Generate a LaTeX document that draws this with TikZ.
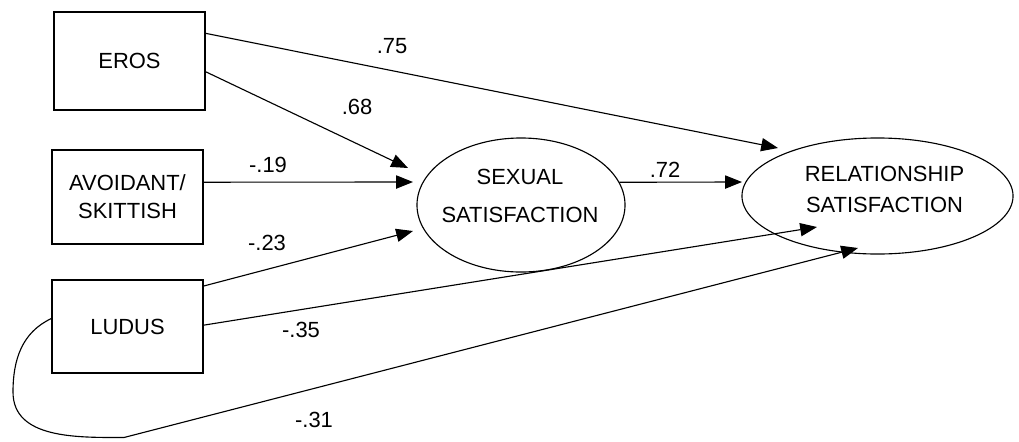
\documentclass[tikz,border=0pt]{standalone}
\usepackage{fontspec}
\setmainfont{Liberation Sans}
\usetikzlibrary{arrows.meta,shapes.geometric}

\begin{document}
\begin{tikzpicture}[x=0.025cm,y=-0.025cm,>={Triangle[length=4.2mm,width=3.3mm]},line width=0.8pt,
  every node/.style={font=\fontsize{15.6}{19}\selectfont},
  varbox/.style={draw,rectangle,minimum width=3.775cm,minimum height=#1,inner sep=0pt,align=center},
  latent/.style={draw,ellipse,inner sep=0pt},
  coef/.style={inner sep=1pt}]
  \useasboundingbox (0,0) rectangle (1019,441);

  % ================= observed variables =================
  \node[varbox=2.45cm] (eros) at (129.5,61) {EROS};
  \node[varbox=2.35cm,font=\fontsize{15.6}{20}\selectfont] (avoid) at (127.5,197) {AVOIDANT/\\SKITTISH};
  \node[varbox=2.325cm] (ludus) at (127.5,326.5) {LUDUS};

  % ================= latent variables =================
  \node[latent,minimum width=5.2cm,minimum height=3.35cm] (sex) at (521,205) {};
  \node[align=center,font=\fontsize{15.6}{27}\selectfont] (sextxt) at (520,196) {SEXUAL\\SATISFACTION};
  \node[latent,minimum width=6.775cm,minimum height=2.9cm] (rel) at (877.5,196) {};
  \node[align=center,font=\fontsize{15.6}{22}\selectfont] (reltxt) at (884.5,189.5) {RELATIONSHIP\\SATISFACTION};

  % arrow ends near the ellipses
  \coordinate (sexA) at ([shift={(-113,-37)}]sex.center);
  \coordinate (sexB) at ([shift={(-108,-23)}]sex.center);
  \coordinate (sexC) at ([shift={(-108,26)}]sex.center);
  \coordinate (relA) at ([shift={(-99.5,-48)}]rel.center);
  \coordinate (relB) at ([shift={(-135.5,-14)}]rel.center);
  \coordinate (relC) at ([shift={(-60.5,31)}]rel.center);
  \coordinate (relD) at ([shift={(-19.5,52)}]rel.center);
  % bends of the loop under LUDUS
  \coordinate (bendA) at (13,392);
  \coordinate (bendB) at (124,437.5);

  % ================= paths =================
  \draw[->] (eros.20) -- (relA);
  \draw[->] (eros.-8) -- (sexA);
  \draw[->] (avoid.11) -- (sexB);
  \draw[->] (ludus.28) -- (sexC);
  \draw[->] (sex.13) -- (relB);
  \draw[->] (ludus.1) -- (relC);
  \draw[->] (ludus.174) to[out=205,in=90] (bendA) to[out=-90,in=180] (bendB) -- (relD);

  % ================= coefficients =================
  \node[coef] (c75) at (392,46) {.75};
  \node[coef] (c68) at (357,107) {.68};
  \node[coef] (c19) at (268,165) {-.19};
  \node[coef] (c23) at (267,243) {-.23};
  \node[coef] (c72) at (665,170) {.72};
  \node[coef] (c35) at (301,330) {-.35};
  \node[coef] (c31) at (314,420) {-.31};
\end{tikzpicture}
\end{document}
